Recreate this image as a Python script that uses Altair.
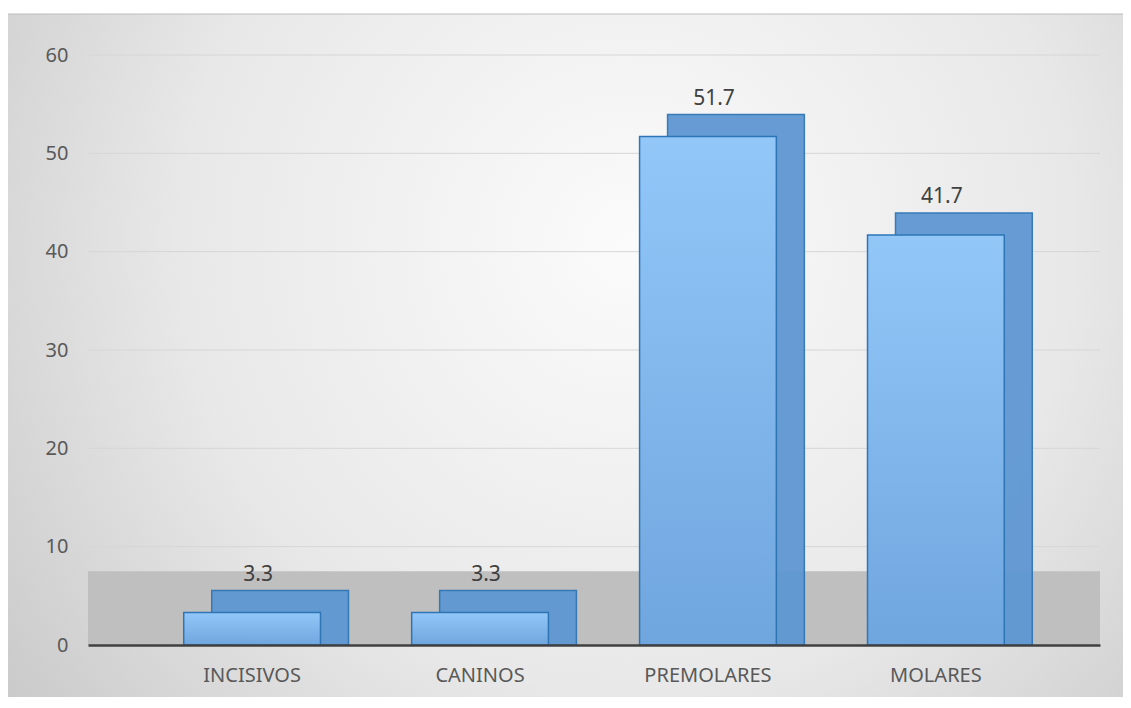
import altair as alt
import pandas as pd

categories = ["INCISIVOS", "CANINOS", "PREMOLARES", "MOLARES"]
values = [3.3, 3.3, 51.7, 41.7]
y_ticks = [0, 10, 20, 30, 40, 50, 60]

df = pd.DataFrame({"cat": categories, "val": values})
grid_df = pd.DataFrame({"tick": y_ticks[1:]})

W, H = 1012, 590
FONT = "Noto Sans"

x_enc = alt.X("cat:N", sort=categories,
              scale=alt.Scale(paddingInner=0.4, paddingOuter=0.42),
              axis=alt.Axis(title=None, labelAngle=0, labelFontSize=20, labelColor="#595959",
                            labelFont=FONT, labelPadding=20, ticks=False, zindex=2,
                            domainColor="#404040", domainWidth=2.5, grid=False))
y_scale = alt.Scale(domain=[0, 60])
y_enc = alt.Y("val:Q", scale=y_scale,
              axis=alt.Axis(title=None, values=y_ticks, labelFontSize=20, labelColor="#595959",
                            labelFont=FONT, labelPadding=20, ticks=False, domain=False,
                            grid=False, zindex=2))

bg = alt.Chart(pd.DataFrame({"a": [0]})).mark_rect(
    color=alt.Gradient(gradient="radial", x1=0.55, y1=0.4, x2=0.55, y2=0.4, r1=0, r2=0.72,
                       stops=[alt.GradientStop(color="#fbfbfb", offset=0),
                              alt.GradientStop(color="#e8e8e8", offset=0.55),
                              alt.GradientStop(color="#c6c6c6", offset=1)]),
    stroke="#bdbdbd", strokeWidth=1
).encode(x=alt.value(-81), x2=alt.value(W + 34), y=alt.value(-41), y2=alt.value(H + 55))

grid = alt.Chart(grid_df).mark_rule(color="#d6d6d6", strokeWidth=1).encode(
    y=alt.Y("tick:Q", scale=y_scale)
)

floor = alt.Chart(pd.DataFrame({"a": [0]})).mark_rect(color="#bfbfbf").encode(
    x=alt.value(0), x2=alt.value(W), y=alt.datum(0, scale=y_scale), y2=alt.datum(7.5)
)

base = alt.Chart(df)

depth = base.mark_bar(color="#5f98d2", opacity=0.95, xOffset=28, yOffset=-22,
                      stroke="#2e75b6", strokeWidth=1.5).encode(
    x=x_enc, y=y_enc, y2=alt.datum(0)
)

front = base.mark_bar(
    color=alt.Gradient(gradient="linear", x1=0, y1=0, x2=0, y2=1,
                       stops=[alt.GradientStop(color="#92c7f8", offset=0),
                              alt.GradientStop(color="#6fa6de", offset=1)]),
    stroke="#2e75b6", strokeWidth=1.5
).encode(x=x_enc, y=alt.Y("val:Q", scale=y_scale), y2=alt.datum(0))

labels = base.mark_text(dy=-38, dx=6, fontSize=21, color="#404040", font=FONT).encode(
    x=x_enc, y=alt.Y("val:Q", scale=y_scale), text=alt.Text("val:Q", format=".1f")
)

chart = alt.layer(bg, grid, floor, depth, front, labels).properties(
    width=W, height=H,
    autosize=alt.AutoSizeParams(type="none"),
    padding={"left": 80, "top": 47, "right": 23, "bottom": 52},
    background="#ffffff"
).configure_view(stroke=None)

chart.save("out.html", embed_options={"renderer": "svg", "actions": False})
